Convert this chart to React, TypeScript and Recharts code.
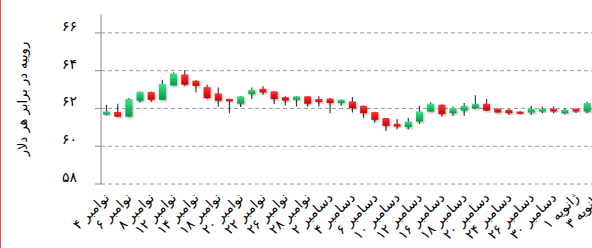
import { BarChart, Bar, XAxis, YAxis, CartesianGrid } from "recharts";

const months = ["نوامبر", "دسامبر", "ژانویه"];
const days = [
  4, 5, 6, 7, 8, 11, 12, 13, 14, 15, 18, 19, 20, 21, 22, 25, 26, 27, 28, 29,
  2, 3, 4, 5, 6, 9, 10, 11, 12, 13, 16, 17, 18, 19, 20, 23, 24, 25, 26, 27, 30, 31,
  1, 2, 3,
];
const monthOf = [
  0, 0, 0, 0, 0, 0, 0, 0, 0, 0, 0, 0, 0, 0, 0, 0, 0, 0, 0, 0,
  1, 1, 1, 1, 1, 1, 1, 1, 1, 1, 1, 1, 1, 1, 1, 1, 1, 1, 1, 1, 1, 1,
  2, 2, 2,
];

const opens = [
  61.68, 61.82, 61.57, 62.41, 62.87, 62.46, 63.22, 63.8, 63.47, 63.13,
  62.8, 62.5, 62.25, 62.76, 63.04, 62.9, 62.6, 62.46, 62.64, 62.5,
  62.52, 62.29, 62.37, 62.14, 61.81, 61.49, 61.19, 61.01, 61.31, 61.84,
  62.2, 61.75, 61.89, 62.02, 62.25, 61.98, 61.93, 61.84, 61.79, 61.84,
  61.98, 61.75, 61.98, 61.84, 62.29,
];
const highs = [
  62.2, 62.25, 62.55, 62.9, 62.9, 63.52, 63.9, 64.02, 63.5, 63.26,
  63.11, 62.52, 62.66, 63.11, 63.17, 62.92, 62.65, 62.66, 62.66, 62.64,
  62.55, 62.48, 62.6, 62.16, 61.83, 61.5, 61.44, 61.49, 62.14, 62.33,
  62.22, 62.1, 62.29, 62.7, 62.5, 62.0, 61.96, 61.85, 62.14, 62.1,
  62.1, 62.0, 62.0, 62.35, 62.4,
];
const lows = [
  61.65, 61.55, 61.55, 62.33, 62.35, 62.45, 63.2, 63.2, 62.85, 62.5,
  62.1, 61.75, 62.07, 62.5, 62.73, 62.23, 62.16, 62.1, 62.1, 62.1,
  61.75, 62.14, 61.79, 61.49, 61.26, 60.81, 60.9, 60.9, 61.19, 61.82,
  61.57, 61.61, 61.61, 62.0, 61.87, 61.76, 61.66, 61.71, 61.66, 61.75,
  61.75, 61.7, 61.76, 61.76, 62.0,
];
const closes = [
  61.84, 61.57, 62.5, 62.88, 62.46, 63.3, 63.84, 63.26, 63.2, 62.55,
  62.41, 62.38, 62.64, 62.99, 62.85, 62.5, 62.42, 62.64, 62.25, 62.34,
  62.29, 62.46, 62.02, 61.75, 61.4, 61.08, 61.04, 61.31, 61.84, 62.25,
  61.7, 62.02, 62.14, 62.25, 61.89, 61.79, 61.75, 61.72, 61.98, 61.98,
  61.84, 61.93, 61.84, 62.29, 62.1,
];

const yTicks = [58, 60, 62, 64, 66];
const yTitle = "روپیه در برابر هر دلار";

const FONT = "'DejaVu Sans', sans-serif";
const faDigits = (s: string | number) =>
  String(s).replace(/[0-9]/g, (d) => "۰۱۲۳۴۵۶۷۸۹"[Number(d)]);

const data = days.map((d, i) => ({
  date: `${months[monthOf[i]]} ${faDigits(d)}`,
  open: opens[i],
  high: highs[i],
  low: lows[i],
  close: closes[i],
}));
const N = data.length;
const boundaries = Array.from({ length: N + 1 }, (_, i) => i);

function Candle(props: any) {
  const { x, y, width, height, payload } = props;
  const { open, close, high, low } = payload;
  const k = high > low ? height / (high - low) : 0;
  const yOf = (v: number) => y + (high - v) * k;
  const up = close >= open;
  const top = yOf(Math.max(open, close));
  const bot = yOf(Math.min(open, close));
  const cx = x + width / 2;
  return (
    <g>
      <line x1={cx} x2={cx} y1={y} y2={y + height} stroke="#3c3c3c" strokeWidth={1.2} />
      <rect
        x={x}
        y={top}
        width={width}
        height={Math.max(bot - top, 1.5)}
        fill={up ? "url(#candleUp)" : "url(#candleDown)"}
        filter="url(#candleShadow)"
      />
    </g>
  );
}

function DateTick(props: any) {
  const { x, y, payload, index } = props;
  if (index % 2 !== 0) return <g />;
  return (
    <text
      x={x}
      y={y}
      transform={`rotate(-45, ${x}, ${y})`}
      textAnchor="end"
      dominantBaseline="central"
      fontSize={13.5}
      fontFamily={FONT}
      fill="#000"
    >
      {payload.value}
    </text>
  );
}

function ValueTick(props: any) {
  const { x, y, payload } = props;
  return (
    <text x={x} y={y} dy={-2} textAnchor="end" fontSize={14} fontFamily={FONT} fill="#000">
      {faDigits(payload.value)}
    </text>
  );
}

export default function App() {
  return (
    <div
      style={{
        position: "fixed",
        left: 0,
        top: 0,
        width: 592,
        height: 248,
        overflow: "hidden",
        background: "#fff",
      }}
    >
      <div style={{ position: "absolute", left: 0, top: 0, width: 1, height: 248, background: "#f04848" }} />
      <BarChart
        width={640}
        height={248}
        data={data}
        margin={{ top: 14, right: 36, bottom: 0, left: 0 }}
        barCategoryGap={0}
      >
        <defs>
          <linearGradient id="candleUp" x1="0" y1="0" x2="0" y2="1">
            <stop offset="0%" stopColor="#3ee08c" />
            <stop offset="100%" stopColor="#009a44" />
          </linearGradient>
          <linearGradient id="candleDown" x1="0" y1="0" x2="0" y2="1">
            <stop offset="0%" stopColor="#ff3434" />
            <stop offset="100%" stopColor="#c80000" />
          </linearGradient>
          <filter id="candleShadow" x="-50%" y="-50%" width="200%" height="200%">
            <feDropShadow dx={1} dy={1.5} stdDeviation={1} floodColor="#000" floodOpacity={0.3} />
          </filter>
        </defs>
        <CartesianGrid
          xAxisId="cat"
          vertical={false}
          syncWithTicks
          stroke="#9a9a9a"
          strokeDasharray="4 3"
        />
        <XAxis
          xAxisId="grid"
          type="number"
          domain={[0, N]}
          ticks={boundaries}
          allowDataOverflow
          mirror
          height={0}
          tickSize={6}
          tick={() => <g />}
          stroke="#8c8c8c"
        />
        <XAxis
          xAxisId="cat"
          dataKey="date"
          interval={0}
          axisLine={false}
          tickLine={false}
          tickSize={0}
          tickMargin={11}
          height={64}
          tick={(p: any) => <DateTick {...p} />}
        />
        <YAxis
          domain={[58, 67]}
          ticks={yTicks}
          allowDataOverflow
          width={101}
          tickSize={6}
          tickMargin={18}
          stroke="#8c8c8c"
          tick={(p: any) => <ValueTick {...p} />}
          label={{
            content: ({ viewBox }: any) => {
              const lx = viewBox.x + 22;
              const ly = viewBox.y + viewBox.height / 2;
              return (
                <text
                  x={lx}
                  y={ly}
                  transform={`rotate(-90, ${lx}, ${ly})`}
                  textAnchor="middle"
                  dominantBaseline="central"
                  fontSize={13}
                  fontFamily={FONT}
                  fill="#000"
                >
                  {yTitle}
                </text>
              );
            },
          }}
        />
        <Bar
          xAxisId="cat"
          dataKey={(d: any) => [d.low, d.high]}
          barSize={7}
          shape={(p: any) => <Candle {...p} />}
          isAnimationActive={false}
        />
      </BarChart>
    </div>
  );
}
